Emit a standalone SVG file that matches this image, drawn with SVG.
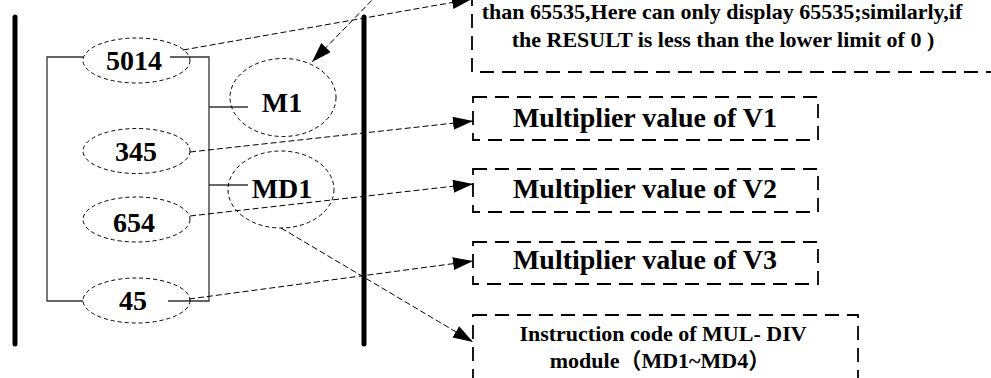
<svg xmlns="http://www.w3.org/2000/svg" width="991" height="378" viewBox="0 0 991 378">
<style>
.bar{stroke:#000;stroke-width:5;stroke-linecap:round;fill:none}
.wire{stroke:#333;stroke-width:1.3;fill:none}
.ell{fill:none;stroke:#000;stroke-width:1;stroke-dasharray:4 3}
.box{fill:none;stroke:#000;stroke-width:1.8;stroke-dasharray:14 8}
.conn{stroke:#000;stroke-width:1;stroke-dasharray:6 3;fill:none;marker-end:url(#ah)}
.t{font-family:"Liberation Serif","Times New Roman",serif;font-weight:bold;fill:#000;text-anchor:middle}
.n{font-size:28px}
.s{font-size:22px}
.c{font-family:"Liberation Serif","Noto Sans CJK SC",serif}
</style>
<defs>
<marker id="ah" markerUnits="userSpaceOnUse" markerWidth="22" markerHeight="14" refX="20" refY="6.5" orient="auto">
<path d="M0,0 L20,6.5 L0,13 z" fill="#000"/>
</marker>
</defs>
<g id="rails">
<line class="bar" x1="15" y1="17" x2="15" y2="344"/>
<line class="bar" x1="364" y1="17" x2="364" y2="344"/>
</g>
<g id="wires">
<polyline class="wire" points="83,57 47,57 47,301 83,301"/>
<polyline class="wire" points="170,57 209,57 209,301 168,301"/>
<line class="wire" x1="209" y1="107" x2="248" y2="107"/>
<line class="wire" x1="209" y1="185" x2="248" y2="185"/>
</g>
<g id="n5014"><ellipse class="ell" cx="136.5" cy="60.5" rx="53.5" ry="22.5"/><text class="t n" x="134" y="70">5014</text></g>
<g id="n345"><ellipse class="ell" cx="136.5" cy="151" rx="53.5" ry="22.5"/><text class="t n" x="136" y="161">345</text></g>
<g id="n654"><ellipse class="ell" cx="136.5" cy="219.5" rx="53.5" ry="22.5"/><text class="t n" x="134" y="232">654</text></g>
<g id="n45"><ellipse class="ell" cx="136.5" cy="300.5" rx="53.5" ry="22.5"/><text class="t n" x="133" y="310">45</text></g>
<g id="nM1"><ellipse class="ell" cx="283" cy="97.5" rx="53" ry="39"/><text class="t n" x="282" y="112">M1</text></g>
<g id="nMD1"><ellipse class="ell" cx="281" cy="189.5" rx="53" ry="38.5"/><text class="t n" x="282" y="198">MD1</text></g>
<g id="bTop"><rect class="box" x="472" y="-100" width="530" height="172"/>
<text class="t s" x="722" y="19">than 65535,Here can only display 65535;similarly,if</text>
<text class="t s" x="723" y="47">the RESULT is less than the lower limit of 0 )</text></g>
<g id="bV1"><rect class="box" x="473" y="97" width="345" height="43"/><text class="t n" x="645" y="127">Multiplier value of V1</text></g>
<g id="bV2"><rect class="box" x="473" y="169" width="345" height="43"/><text class="t n" x="645" y="198">Multiplier value of V2</text></g>
<g id="bV3"><rect class="box" x="473" y="242" width="345" height="42"/><text class="t n" x="645" y="269">Multiplier value of V3</text></g>
<g id="bInstr"><rect class="box" x="473" y="315" width="385" height="100"/>
<text class="t s" x="663" y="341">Instruction code of MUL- DIV</text>
<text class="t s c" x="660" y="368">module（MD1~MD4）</text></g>
<g id="connectors">
<line class="conn" x1="183" y1="50" x2="472" y2="-1"/>
<line class="conn" x1="378" y1="-6" x2="312" y2="62"/>
<line class="conn" x1="190" y1="152" x2="473" y2="121"/>
<line class="conn" x1="190" y1="216" x2="473" y2="184"/>
<line class="conn" x1="189" y1="299" x2="473" y2="261"/>
<line class="conn" x1="281" y1="228" x2="473" y2="342"/>
</g>
</svg>
